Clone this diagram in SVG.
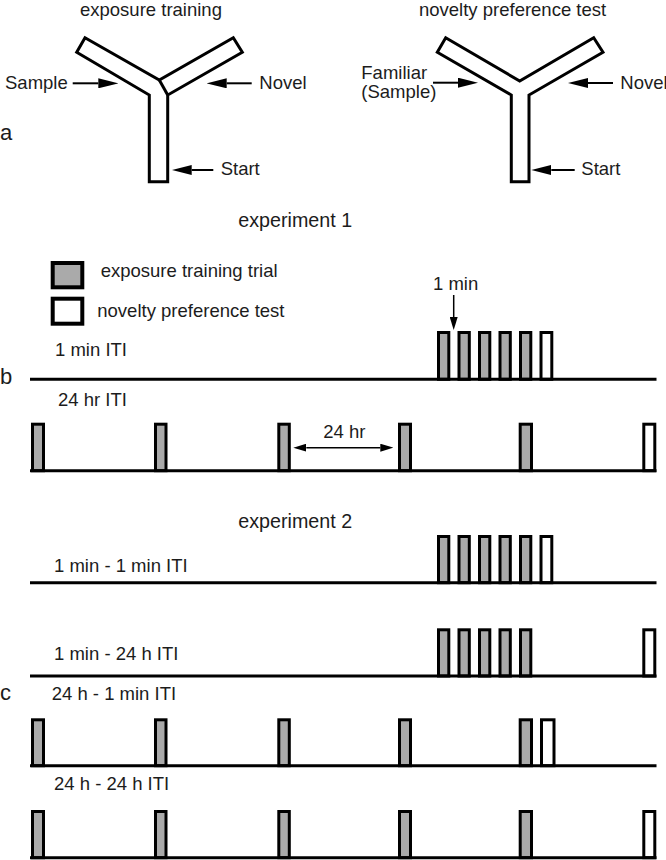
<svg xmlns="http://www.w3.org/2000/svg" width="666" height="860" viewBox="0 0 666 860">
<style>
.t{font-family:"Liberation Sans",Arial,Helvetica,sans-serif;font-size:18.5px;fill:#1c1c1c}
.big{font-size:22px}
.exp{font-size:19.7px}
.maze{fill:#fff;stroke:#000;stroke-width:3;stroke-linejoin:miter}
.tl{stroke:#000;stroke-width:3;fill:none}
.g{fill:#aaaaaa;stroke:#000;stroke-width:3}
.w{fill:#fff;stroke:#000;stroke-width:3}
.lg{stroke-width:4}
.arr{stroke:#000;stroke-width:2;fill:none}
.arrs{stroke:#000;stroke-width:1.5;fill:none}
</style>
<defs>
<marker id="ah" markerUnits="userSpaceOnUse" viewBox="0 0 20 10" markerWidth="20" markerHeight="10" refX="0" refY="5" orient="auto"><path d="M0,0 L20,5 L0,10 z" fill="#000"/></marker>
<marker id="as" markerUnits="userSpaceOnUse" viewBox="0 0 13 8" markerWidth="13" markerHeight="8" refX="0" refY="4" orient="auto-start-reverse"><path d="M0,0 L13,4 L0,8 z" fill="#000"/></marker>
</defs>
<rect width="666" height="860" fill="#fff"/>

<g id="panel-a">
<text class="t big" x="0" y="140">a</text>
<g id="maze-exposure">
<text class="t" x="80" y="15.5">exposure training</text>
<path class="maze" d="M149.3,181.7 L149.3,95 L76.7,52.3 L85,37.7 L159.3,80 L233.3,37.7 L242.3,52.3 L167.7,95 L167.7,181.7 Z"/>
<line class="maze" x1="159.3" y1="80" x2="167.7" y2="95"/>
<text class="t" x="5" y="89">Sample</text>
<text class="t" x="259.3" y="89">Novel</text>
<text class="t" x="220.7" y="174.5">Start</text>
</g>
<g id="maze-test">
<text class="t" x="419" y="15.5">novelty preference test</text>
<path class="maze" d="M511.3,181.7 L511.3,95 L437.3,52.3 L445.7,37.7 L519.7,81 L593.7,37.7 L603,52.3 L529,95 L529,181.7 Z"/>
<text class="t" x="361.3" y="78.5">Familiar</text>
<text class="t" x="361.3" y="98">(Sample)</text>
<text class="t" x="620.3" y="89">Novel</text>
<text class="t" x="581.3" y="174.5">Start</text>
</g>
</g>

<g id="legend">
<rect class="g lg" x="52.7" y="263" width="29.6" height="24.3"/>
<text class="t" x="100.7" y="277.3">exposure training trial</text>
<rect class="w lg" x="52.7" y="298.7" width="29.6" height="25"/>
<text class="t" x="97.3" y="316.7">novelty preference test</text>
</g>

<g id="panel-b">
<text class="t exp" x="238.3" y="227.3">experiment 1</text>
<text class="t big" x="0" y="383.5">b</text>
<g id="b-1min">
<text class="t" x="55" y="355.7">1 min ITI</text>
<text class="t" x="433" y="290">1 min</text>
<rect class="g" x="438.5" y="332.5" width="10.3" height="46.8"/>
<rect class="g" x="459" y="332.5" width="10.3" height="46.8"/>
<rect class="g" x="479.5" y="332.5" width="10.3" height="46.8"/>
<rect class="g" x="500" y="332.5" width="10.3" height="46.8"/>
<rect class="g" x="520.5" y="332.5" width="10.3" height="46.8"/>
<rect class="w" x="541" y="332.5" width="10.8" height="46.8"/>
<line class="tl" x1="30" y1="379.3" x2="656.5" y2="379.3"/>
</g>
<g id="b-24hr">
<text class="t" x="58" y="405.5">24 hr ITI</text>
<text class="t" x="323.3" y="438.3">24 hr</text>
<rect class="g" x="32.5" y="424.2" width="11" height="46.5"/>
<rect class="g" x="155.5" y="424.2" width="10.5" height="46.5"/>
<rect class="g" x="278.8" y="424.2" width="10.5" height="46.5"/>
<rect class="g" x="399.5" y="424.2" width="11" height="46.5"/>
<rect class="g" x="520.2" y="424.2" width="11.3" height="46.5"/>
<rect class="w" x="643.8" y="424.2" width="11" height="46.5"/>
<line class="tl" x1="30" y1="470.7" x2="656.5" y2="470.7"/>
</g>
</g>

<g id="panel-c">
<text class="t exp" x="238.3" y="528.3">experiment 2</text>
<text class="t big" x="0" y="700">c</text>
<g id="c-1min-1min">
<text class="t" x="54" y="571.7">1 min - 1 min ITI</text>
<rect class="g" x="438.5" y="536.5" width="10.3" height="46.2"/>
<rect class="g" x="459" y="536.5" width="10.3" height="46.2"/>
<rect class="g" x="479.5" y="536.5" width="10.3" height="46.2"/>
<rect class="g" x="500" y="536.5" width="10.3" height="46.2"/>
<rect class="g" x="520.5" y="536.5" width="10.3" height="46.2"/>
<rect class="w" x="541" y="536.5" width="10.8" height="46.2"/>
<line class="tl" x1="30" y1="582.7" x2="656.5" y2="582.7"/>
</g>
<g id="c-1min-24h">
<text class="t" x="54" y="659.5">1 min - 24 h ITI</text>
<rect class="g" x="438.5" y="629.8" width="10.3" height="46.2"/>
<rect class="g" x="459" y="629.8" width="10.3" height="46.2"/>
<rect class="g" x="479.5" y="629.8" width="10.3" height="46.2"/>
<rect class="g" x="500" y="629.8" width="10.3" height="46.2"/>
<rect class="g" x="520.5" y="629.8" width="10.3" height="46.2"/>
<rect class="w" x="643.8" y="629.8" width="11" height="46.2"/>
<line class="tl" x1="30" y1="676" x2="656.5" y2="676"/>
</g>
<g id="c-24h-1min">
<text class="t" x="51.7" y="700">24 h - 1 min ITI</text>
<rect class="g" x="32.5" y="719.8" width="11" height="45.9"/>
<rect class="g" x="155.5" y="719.8" width="10.5" height="45.9"/>
<rect class="g" x="278.8" y="719.8" width="10.5" height="45.9"/>
<rect class="g" x="399.5" y="719.8" width="11" height="45.9"/>
<rect class="g" x="520.2" y="719.8" width="11.3" height="45.9"/>
<rect class="w" x="541.5" y="719.8" width="12.5" height="45.9"/>
<line class="tl" x1="30" y1="765.7" x2="656.5" y2="765.7"/>
</g>
<g id="c-24h-24h">
<text class="t" x="54" y="790">24 h - 24 h ITI</text>
<rect class="g" x="32.5" y="811.5" width="11" height="46.2"/>
<rect class="g" x="155.5" y="811.5" width="10.5" height="46.2"/>
<rect class="g" x="278.8" y="811.5" width="10.5" height="46.2"/>
<rect class="g" x="399.5" y="811.5" width="11" height="46.2"/>
<rect class="g" x="520.2" y="811.5" width="11.3" height="46.2"/>
<rect class="w" x="643.8" y="811.5" width="11" height="46.2"/>
<line class="tl" x1="30" y1="857.7" x2="656.5" y2="857.7"/>
</g>
</g>

<g id="connectors">
<line class="arr" x1="72.7" y1="83.3" x2="98.3" y2="83.3" marker-end="url(#ah)"/>
<line class="arr" x1="251.7" y1="83.3" x2="226.7" y2="83.3" marker-end="url(#ah)"/>
<line class="arr" x1="213.3" y1="170" x2="191.7" y2="170" marker-end="url(#ah)"/>
<line class="arr" x1="433" y1="82.7" x2="458" y2="82.7" marker-end="url(#ah)"/>
<line class="arr" x1="613" y1="83" x2="588" y2="83" marker-end="url(#ah)"/>
<line class="arr" x1="574.7" y1="170" x2="551.3" y2="170" marker-end="url(#ah)"/>
<line class="arrs" x1="453.7" y1="295" x2="453.7" y2="317" marker-end="url(#as)"/>
<line class="arrs" x1="306.3" y1="447.7" x2="380.3" y2="447.7" marker-start="url(#as)" marker-end="url(#as)"/>
</g>
</svg>
